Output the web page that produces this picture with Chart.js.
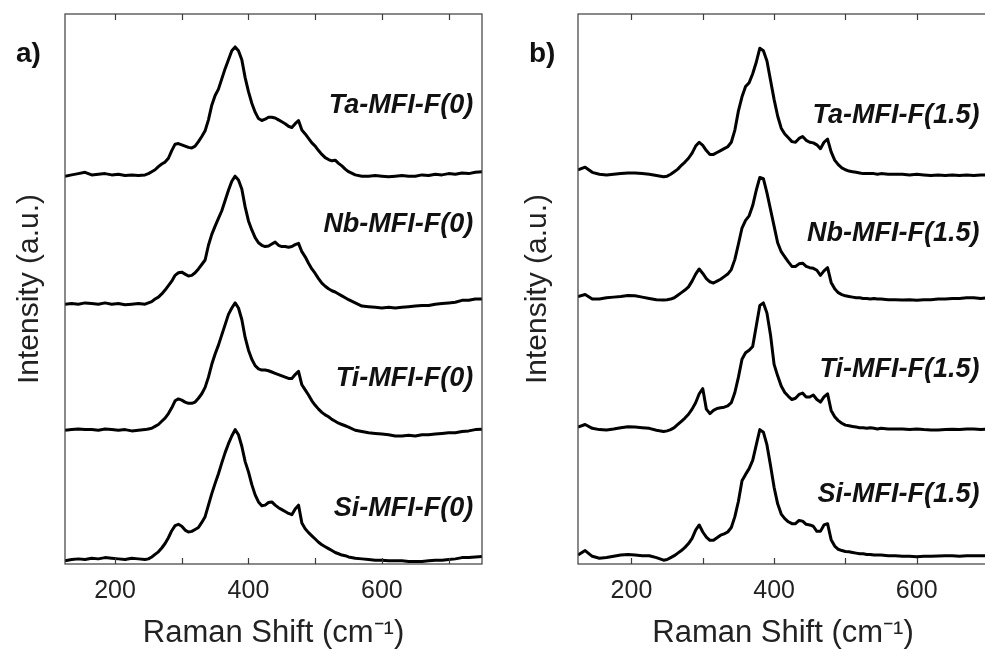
<!DOCTYPE html>
<html lang="en">
<head>
    <meta charset="UTF-8">
    <title>Raman spectra MFI</title>
    <style>
        body { margin: 0; overflow: hidden; background: #fff; }
        .wrap { position: absolute; top: 0; }
        .tag { position: absolute; font: bold 28px Arial, "Liberation Sans", sans-serif; color: #111; line-height: 28px; }
    </style>
    <script src="https://cdn.jsdelivr.net/npm/chart.js@4.4.0/dist/chart.umd.min.js"></script>
</head>
<body>
    <div class="wrap" style="left:0;"><canvas id="chart-a" width="492" height="650"></canvas></div>
    <div class="wrap" style="left:495px;"><canvas id="chart-b" width="505" height="650"></canvas></div>
    <div class="tag" style="left:16px;top:39px;">a)</div>
    <div class="tag" style="left:529px;top:39px;">b)</div>
    <script>
        const shiftA = [125,135,145,155,165,175,185,195,205,215,225,235,245,
            250,255,260,265,270,275,280,285,290,295,300,305,310,315,320,325,330,335,340,345,
            350,355,360,365,370,375,380,385,390,395,400,405,410,415,420,425,430,435,440,445,
            450,455,460,465,470,475,480,485,490,495,500,505,510,515,520,525,530,535,540,545,550,
            560,570,580,590,600,610,620,630,640,650,660,670,680,690,700,710,720,730,740,750];
        const shiftB = [125,135,145,155,165,175,185,195,205,215,225,235,245,
            250,255,260,265,270,275,280,285,290,295,300,305,310,315,320,325,330,335,340,345,
            350,355,360,365,370,375,380,385,390,395,400,405,410,415,420,425,430,435,440,445,
            450,455,460,465,470,475,480,485,490,495,500,505,510,515,520,525,530,535,540,545,550,
            560,570,580,590,600,610,620,630,640,650,660,670,680,690,700];

        // panel a) F(0) samples, intensity normalised to the main band
        const taA = [-0.01,0.00,0.01,0.02,0.00,0.005,0.01,0.00,0.005,-0.005,0.00,-0.005,0.00,
            0.01,0.025,0.04,0.065,0.085,0.10,0.13,0.19,0.24,0.245,
            0.235,0.225,0.215,0.21,0.225,0.26,0.30,0.345,0.43,0.545,
            0.62,0.67,0.75,0.83,0.90,0.97,1.00,0.97,0.90,0.76,
            0.65,0.56,0.49,0.44,0.425,0.435,0.45,0.45,0.445,0.43,
            0.415,0.40,0.38,0.37,0.40,0.425,0.35,0.32,0.285,0.25,
            0.225,0.19,0.16,0.135,0.12,0.11,0.115,0.09,0.07,0.045,0.025,
            0.00,-0.01,-0.01,-0.005,-0.01,-0.015,-0.01,-0.005,-0.01,-0.01,0.00,-0.005,0.005,0.00,0.01,0.005,0.015,0.01,0.02,0.025];
        const nbA = [-0.01,-0.005,-0.01,0.00,-0.005,-0.01,0.00,-0.01,-0.005,-0.015,-0.01,-0.005,-0.01,
            0.00,0.01,0.03,0.045,0.07,0.10,0.135,0.17,0.215,0.235,
            0.24,0.225,0.21,0.215,0.235,0.265,0.30,0.335,0.45,0.535,
            0.60,0.66,0.72,0.80,0.88,0.95,0.99,0.96,0.89,0.75,
            0.64,0.57,0.51,0.47,0.45,0.44,0.445,0.46,0.475,0.45,
            0.44,0.44,0.435,0.44,0.455,0.465,0.40,0.36,0.31,0.265,
            0.23,0.19,0.155,0.13,0.11,0.095,0.085,0.07,0.055,0.04,0.025,
            0.00,-0.025,-0.03,-0.035,-0.04,-0.035,-0.04,-0.035,-0.03,-0.025,-0.02,-0.02,-0.01,-0.005,0.00,0.005,0.02,0.02,0.03,0.03];
        const tiA = [0.005,0.01,0.015,0.01,0.01,0.005,0.015,0.01,0.005,0.01,0.00,0.005,0.01,
            0.015,0.02,0.035,0.05,0.075,0.10,0.135,0.18,0.235,0.25,
            0.24,0.225,0.215,0.215,0.225,0.255,0.29,0.34,0.42,0.52,
            0.60,0.67,0.75,0.83,0.91,0.96,1.00,0.96,0.87,0.73,
            0.63,0.56,0.51,0.485,0.475,0.475,0.47,0.46,0.45,0.44,
            0.43,0.42,0.41,0.41,0.44,0.465,0.36,0.32,0.28,0.235,
            0.20,0.17,0.145,0.125,0.11,0.09,0.075,0.06,0.05,0.04,0.03,
            0.005,-0.005,-0.015,-0.02,-0.025,-0.03,-0.04,-0.04,-0.035,-0.04,-0.03,-0.03,-0.025,-0.02,-0.015,-0.015,-0.005,0.00,0.01,0.013];
        const siA = [-0.015,-0.005,0.00,-0.005,0.005,0.00,0.01,0.005,0.00,-0.005,0.005,0.00,-0.005,
            0.00,0.015,0.035,0.055,0.085,0.12,0.165,0.22,0.26,0.27,
            0.255,0.225,0.21,0.215,0.23,0.245,0.285,0.33,0.42,0.51,
            0.59,0.665,0.75,0.83,0.90,0.96,1.01,0.97,0.88,0.76,
            0.68,0.58,0.50,0.445,0.415,0.42,0.44,0.445,0.42,0.40,
            0.385,0.37,0.355,0.345,0.39,0.42,0.28,0.235,0.205,0.18,
            0.155,0.13,0.11,0.095,0.08,0.065,0.05,0.04,0.03,0.025,0.015,
            0.005,0.00,-0.005,-0.01,-0.01,-0.015,-0.015,-0.015,-0.02,-0.02,-0.02,-0.015,-0.01,-0.01,-0.005,0.00,0.01,0.01,0.015,0.018];

        // panel b) F(1.5) samples
        const taB = [0.03,0.05,0.01,-0.005,-0.01,-0.005,0.00,0.005,0.005,0.00,-0.005,-0.015,-0.025,
            -0.02,-0.005,0.015,0.035,0.065,0.09,0.12,0.16,0.215,0.245,
            0.22,0.18,0.15,0.15,0.165,0.18,0.195,0.21,0.245,0.34,
            0.49,0.60,0.68,0.71,0.78,0.87,0.98,0.96,0.88,0.73,
            0.58,0.45,0.355,0.31,0.28,0.25,0.245,0.275,0.29,0.26,
            0.245,0.24,0.225,0.195,0.245,0.27,0.17,0.105,0.07,0.045,
            0.03,0.02,0.015,0.01,0.005,0.00,0.00,0.00,0.00,-0.005,0.00,
            -0.005,-0.005,-0.005,-0.01,-0.005,-0.01,-0.015,-0.01,-0.015,-0.01,-0.015,-0.01,-0.015,-0.01,-0.01];
        const nbB = [0.01,0.025,-0.01,-0.01,0.00,0.005,0.01,0.018,0.015,0.005,-0.005,-0.015,-0.018,
            -0.015,-0.01,0.00,0.02,0.04,0.06,0.085,0.13,0.185,0.225,
            0.19,0.15,0.125,0.115,0.13,0.145,0.165,0.185,0.22,0.30,
            0.42,0.545,0.605,0.64,0.72,0.84,0.94,0.93,0.82,0.69,
            0.56,0.43,0.36,0.32,0.28,0.245,0.245,0.265,0.27,0.245,
            0.235,0.23,0.215,0.175,0.21,0.235,0.12,0.07,0.04,0.025,
            0.015,0.01,0.005,0.00,0.00,-0.005,-0.005,-0.01,-0.005,-0.01,-0.01,
            -0.015,-0.015,-0.018,-0.015,-0.02,-0.015,-0.015,-0.01,-0.01,-0.005,-0.005,0.00,0.00,-0.005,0.00];
        const tiB = [0.01,0.03,0.00,-0.01,-0.013,-0.005,0.005,0.013,0.01,0.005,0.00,-0.015,-0.025,
            -0.02,-0.01,0.005,0.03,0.055,0.08,0.11,0.15,0.20,0.27,
            0.31,0.15,0.115,0.14,0.155,0.16,0.165,0.175,0.20,0.28,
            0.40,0.54,0.59,0.61,0.64,0.80,0.96,0.98,0.90,0.73,
            0.50,0.41,0.33,0.28,0.25,0.225,0.235,0.265,0.275,0.245,
            0.245,0.26,0.225,0.205,0.245,0.27,0.14,0.09,0.06,0.04,
            0.025,0.02,0.015,0.01,0.005,0.005,0.00,0.005,0.00,-0.005,0.00,
            -0.005,-0.005,-0.005,-0.01,-0.005,-0.01,-0.013,-0.013,-0.01,-0.008,-0.01,-0.005,-0.005,-0.01,-0.005];
        const siB = [0.00,0.035,-0.01,-0.025,-0.02,-0.01,0.00,0.005,0.00,-0.005,-0.005,-0.02,-0.04,
            -0.035,-0.02,-0.005,0.015,0.035,0.06,0.09,0.13,0.195,0.235,
            0.18,0.14,0.115,0.115,0.135,0.155,0.165,0.18,0.215,0.30,
            0.42,0.58,0.63,0.675,0.74,0.86,0.98,0.96,0.86,0.70,
            0.53,0.40,0.32,0.285,0.26,0.245,0.245,0.27,0.265,0.24,
            0.235,0.225,0.185,0.185,0.235,0.245,0.12,0.07,0.045,0.035,
            0.028,0.025,0.02,0.015,0.01,0.01,0.005,0.005,0.00,0.00,0.00,
            -0.005,-0.005,-0.01,-0.01,-0.013,-0.01,-0.01,-0.008,-0.005,-0.005,-0.01,-0.005,-0.005,-0.005,-0.005];

        // stacking offsets (bottom to top: Si, Ti, Nb, Ta)
        const offsetsA = [0, 1.0, 2.0, 3.0];
        const offsetsB = [0.03, 1.02, 2.04, 3.01];

        const namesA = ['Si-MFI-F(0)', 'Ti-MFI-F(0)', 'Nb-MFI-F(0)', 'Ta-MFI-F(0)'];
        const namesB = ['Si-MFI-F(1.5)', 'Ti-MFI-F(1.5)', 'Nb-MFI-F(1.5)', 'Ta-MFI-F(1.5)'];
        const labelYA = [0.39, 1.41, 2.61, 3.54];
        const labelYB = [0.50, 1.48, 2.54, 3.46];

        const tickValues = [200, 300, 400, 500, 600, 700];
        const tickLabels = [200, 400, 600];

        const FONT = 'Arial, "Liberation Sans", sans-serif';

        // box, inward tick marks and curve names
        const framePlugin = {
            id: 'frame',
            afterDatasetsDraw(chart, args, opts) {
                const {ctx, chartArea: a, scales: {x, y}} = chart;
                ctx.save();
                ctx.strokeStyle = '#3c3c3c';
                ctx.lineWidth = 1.2;
                ctx.strokeRect(a.left, a.top, a.right - a.left, a.bottom - a.top);
                ctx.beginPath();
                tickValues.forEach(v => {
                    if (v > x.max) return;
                    const px = Math.round(x.getPixelForValue(v)) + 0.5;
                    ctx.moveTo(px, a.bottom); ctx.lineTo(px, a.bottom - 6);
                    ctx.moveTo(px, a.top); ctx.lineTo(px, a.top + 6);
                });
                ctx.stroke();
                ctx.fillStyle = '#111';
                ctx.font = 'italic bold 27px ' + FONT;
                ctx.textAlign = 'right';
                ctx.textBaseline = 'middle';
                opts.names.forEach((n, i) => {
                    ctx.fillText(n, x.getPixelForValue(opts.labelX), y.getPixelForValue(opts.labelY[i]));
                });
                ctx.restore();
            }
        };

        function buildChart(id, cfg) {
            const datasets = cfg.series.map((vals, i) => ({
                data: cfg.shift.map((s, j) => ({x: s, y: vals[j] + cfg.offsets[i]})),
                borderColor: '#000',
                borderWidth: 3,
                borderJoinStyle: 'round',
                pointRadius: 0,
                tension: 0,
                fill: false
            }));
            return new Chart(document.getElementById(id), {
                type: 'line',
                data: {datasets: datasets},
                options: {
                    responsive: false,
                    animation: false,
                    layout: {padding: {top: 14, right: cfg.padRight, bottom: 0, left: 0}},
                    plugins: {
                        legend: {display: false},
                        tooltip: {enabled: false},
                        frame: {names: cfg.names, labelX: cfg.labelX, labelY: cfg.labelY}
                    },
                    scales: {
                        x: {
                            type: 'linear',
                            min: 125,
                            max: cfg.xMax,
                            grid: {display: false, drawTicks: false},
                            border: {display: false},
                            afterBuildTicks: s => { s.ticks = tickValues.filter(v => v <= cfg.xMax).map(v => ({value: v})); },
                            afterFit: s => { s.height = 86; },
                            ticks: {
                                callback: v => tickLabels.includes(v) ? String(v) : '',
                                autoSkip: false,
                                maxRotation: 0,
                                padding: 12,
                                color: '#222',
                                font: {family: FONT, size: 25}
                            },
                            title: {
                                display: true,
                                text: 'Raman Shift (cm\u207B\u00B9)',
                                color: '#222',
                                padding: {top: 0, bottom: 1},
                                font: {family: FONT, size: 31, lineHeight: 1.0}
                            }
                        },
                        y: {
                            min: -0.04,
                            max: 4.257,
                            grid: {display: false, drawTicks: false},
                            border: {display: false},
                            ticks: {display: false},
                            afterFit: s => { s.width = cfg.yWidth; },
                            title: {
                                display: true,
                                text: 'Intensity (a.u.)',
                                color: '#222',
                                padding: {top: cfg.titlePad, bottom: 0},
                                font: {family: FONT, size: 30, lineHeight: 1.2}
                            }
                        }
                    }
                },
                plugins: [framePlugin]
            });
        }

        buildChart('chart-a', {
            shift: shiftA, series: [siA, tiA, nbA, taA], offsets: offsetsA,
            names: namesA, labelX: 737, labelY: labelYA,
            xMax: 750, yWidth: 65, titlePad: 12, padRight: 10
        });
        buildChart('chart-b', {
            shift: shiftB, series: [siB, tiB, nbB, taB], offsets: offsetsB,
            names: namesB, labelX: 688, labelY: labelYB,
            xMax: 700, yWidth: 83, titlePad: 25, padRight: 6
        });
    </script>
</body>
</html>
